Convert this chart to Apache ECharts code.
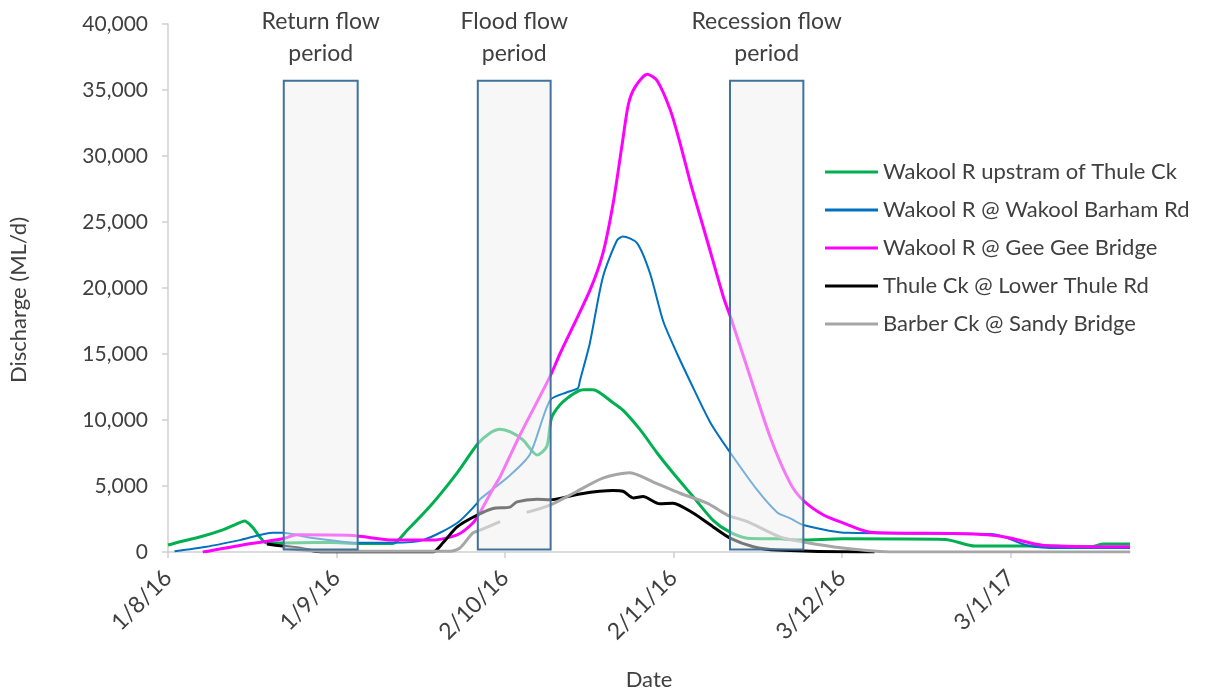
<!DOCTYPE html>
<html>
<head>
<meta charset="utf-8">
<script src="https://cdn.jsdelivr.net/npm/echarts@6/dist/echarts.min.js"></script>
<style>
  html, body { margin: 0; padding: 0; background: #fff; }
  #chart { width: 1208px; height: 693px; }
</style>
</head>
<body>
<div id="chart"></div>
<script>
// x values are days since 1 Aug 2016; y values are discharge in ML/d
const dateTicks = [0, 31, 62, 93, 124, 155];
const dateLabels = ['1/8/16', '1/9/16', '2/10/16', '2/11/16', '3/12/16', '3/1/17'];
const axisEndDay = 177;

const seriesNames = [
  'Wakool R upstram of Thule Ck',
  'Wakool R @ Wakool Barham Rd',
  'Wakool R @ Gee Gee Bridge',
  'Thule Ck @ Lower Thule Rd',
  'Barber Ck @ Sandy Bridge'
];

const wakoolUpstreamThule = [
  [0, 530], [2.2, 780], [6, 1150], [10.1, 1670], [12.5, 2100], [14.1, 2350], [15.5, 1900],
  [18.2, 680], [24.3, 700], [30, 720], [34.8, 650], [41.4, 650], [44, 1650],
  [48.7, 3700], [53.2, 6000], [57, 8200], [59.2, 9000], [61.1, 9300], [63, 9100],
  [65.3, 8500], [67.9, 7350], [69.7, 8000], [70.6, 10200], [72.7, 11400],
  [76.4, 12300], [78.2, 12300], [81.9, 11300], [83.7, 10750], [86.9, 9250],
  [90, 7500], [92.9, 6000], [96.6, 4200], [100.3, 2400], [103.4, 1500],
  [106.6, 1050], [112.6, 1000], [116.3, 900], [124.2, 1000], [143, 950],
  [148.5, 450], [161, 450], [169.8, 400], [172.1, 600], [177, 600]
];

const wakoolBarhamRd = [
  [1.2, 50], [7.1, 400], [13.2, 900], [19.3, 1450], [21.1, 1450], [26, 1100],
  [34.8, 700], [41.4, 700], [46.9, 900], [53.2, 2200], [56.9, 3700], [57.4, 4000],
  [62.9, 5800], [66.6, 7400], [70.3, 11500], [73.4, 12100], [75.4, 12400],
  [75.8, 13000], [77.6, 15800], [80, 20800], [82.6, 23600], [83.7, 23900],
  [86.3, 23400], [88.7, 21100], [91.1, 17500], [93.7, 15000], [96.1, 12900],
  [99.8, 9800], [103.5, 7500], [108.4, 4700], [112.1, 3000], [114.5, 2550],
  [116.9, 2050], [125, 1450], [140, 1400], [151.9, 1350], [158.1, 500],
  [164.2, 300], [177, 300]
];

const wakoolGeeGee = [
  [6.4, 0], [13.2, 500], [21.1, 1000], [23.7, 1300], [34, 1250], [41.4, 900],
  [48.7, 900], [53.2, 1300], [56.1, 2200], [57.4, 3000], [59.8, 4800],
  [61.1, 5700], [64.8, 8900], [70.3, 13300], [72.1, 15000], [77.6, 19800],
  [80, 22600], [81.9, 26400], [83.6, 31000], [84.7, 33900], [85.9, 35200],
  [88.2, 36200], [90, 35700], [92.4, 33500], [94.2, 31000], [96.1, 28000],
  [97, 26700], [99.2, 23600], [102.2, 19300], [103.5, 17800], [107.1, 13300],
  [110.8, 8700], [114.5, 5200], [116.9, 3900], [120.6, 2800], [124.2, 2200],
  [129.2, 1500], [144.5, 1400], [150.8, 1300], [154.5, 1100], [161.1, 500],
  [177, 400]
];

const thuleLowerThuleRd = [
  [18.2, 600], [21.1, 450], [24.8, 250], [28.5, 0], [48.7, 0], [50.6, 700],
  [53.2, 1900], [56.9, 2800], [59.8, 3300], [62.9, 3400], [64.2, 3800],
  [67.9, 4000], [70.3, 3950], [75.8, 4400], [81.9, 4650], [83.7, 4600],
  [85.6, 4100], [87.4, 4200], [90.5, 3650], [92.9, 3700], [96.6, 2950],
  [100.3, 1900], [103.4, 1050], [107.7, 400], [112.1, 150], [127.4, 0], [130, 0]
];

const barberSandyBridge = [
  [21.1, 300], [28.5, 50], [51.9, 50], [53.7, 300], [56.1, 1450], [57.4, 1650],
  [61.1, 2300], [63, null], [66, 3000], [70.3, 3550], [74.6, 4450], [80, 5600],
  [85, 6000], [89.3, 5300], [94.2, 4450], [99.2, 3700], [102.9, 2800],
  [106.6, 2300], [112.6, 1150], [116.9, 750], [124.2, 300], [133.5, 0], [177, 0]
];

// flow periods: [start day, end day, label]
const periods = [
  [21.3, 34.9, 'Return flow\nperiod'],
  [57.0, 70.4, 'Flood flow\nperiod'],
  [103.4, 116.9, 'Recession flow\nperiod']
];
const periodTop = 35700;
const periodBottom = 180;

const seriesData = [wakoolUpstreamThule, wakoolBarhamRd, wakoolGeeGee, thuleLowerThuleRd, barberSandyBridge];
const seriesColors = ['#00b050', '#0070c0', '#ff00ff', '#000000', '#a6a6a6'];
const seriesWidths = [3, 2, 3, 3, 3];

const font = 'Lato, "Open Sans", sans-serif';
const textColor = '#404040';
const axisColor = '#d0d0d0';

const chart = echarts.init(document.getElementById('chart'), null, { renderer: 'canvas' });

const lineSeries = seriesNames.map((name, i) => ({
  name: name,
  type: 'line',
  data: seriesData[i],
  symbol: 'none',
  smooth: 0.25,
  connectNulls: false,
  z: 2 + i,
  lineStyle: { color: seriesColors[i], width: seriesWidths[i] },
  itemStyle: { color: seriesColors[i] }
}));

// period boxes drawn above the lines with a translucent fill
lineSeries.push({
  name: 'periods',
  type: 'line',
  data: [],
  z: 20,
  markArea: {
    silent: true,
    z: 20,
    itemStyle: {
      color: 'rgba(240,240,240,0.5)',
      borderColor: '#41719c',
      borderWidth: 2
    },
    label: {
      show: true,
      position: 'top',
      distance: 10,
      color: textColor,
      fontFamily: font,
      fontSize: 23,
      lineHeight: 32,
      align: 'center'
    },
    data: periods.map(p => [
      { xAxis: p[0], yAxis: periodBottom, name: p[2] },
      { xAxis: p[1], yAxis: periodTop }
    ])
  }
});

chart.setOption({
  animation: false,
  backgroundColor: '#ffffff',
  grid: { left: 168, right: 78, top: 24, bottom: 141, containLabel: false, outerBoundsMode: 'none' },
  legend: {
    data: seriesNames.map((n, i) => ({ name: n, icon: 'rect', itemStyle: { color: seriesColors[i] } })),
    orient: 'vertical',
    left: 820,
    top: 156,
    itemWidth: 53,
    itemHeight: 3,
    itemGap: 16,
    textStyle: { color: textColor, fontFamily: font, fontSize: 22, lineHeight: 22 }
  },
  xAxis: {
    type: 'value',
    min: 0,
    max: axisEndDay,
    interval: 31,
    name: 'Date',
    nameLocation: 'middle',
    nameGap: 117,
    nameTextStyle: { color: textColor, fontFamily: font, fontSize: 22 },
    splitLine: { show: false },
    axisLine: { show: true, lineStyle: { color: axisColor, width: 1.5 } },
    axisTick: { show: true, length: 6, customValues: dateTicks, lineStyle: { color: axisColor, width: 1.5 } },
    axisLabel: {
      customValues: dateTicks,
      rotate: 45,
      margin: 22,
      color: textColor,
      fontFamily: font,
      fontSize: 23,
      formatter: v => {
        const k = dateTicks.indexOf(Math.round(v));
        return k >= 0 ? dateLabels[k] : '';
      }
    }
  },
  yAxis: {
    type: 'value',
    min: 0,
    max: 40000,
    interval: 5000,
    name: 'Discharge (ML/d)',
    nameLocation: 'middle',
    nameGap: 138,
    nameRotate: 90,
    nameTextStyle: { color: textColor, fontFamily: font, fontSize: 22, padding: [0, 24, 0, 0] },
    splitLine: { show: false },
    axisLine: { show: true, lineStyle: { color: axisColor, width: 1.5 } },
    axisTick: { show: true, length: 6, lineStyle: { color: axisColor, width: 1.5 } },
    axisLabel: {
      margin: 20,
      color: textColor,
      fontFamily: font,
      fontSize: 21,
      formatter: v => v.toLocaleString('en-US')
    }
  },
  series: lineSeries
});
</script>
</body>
</html>
